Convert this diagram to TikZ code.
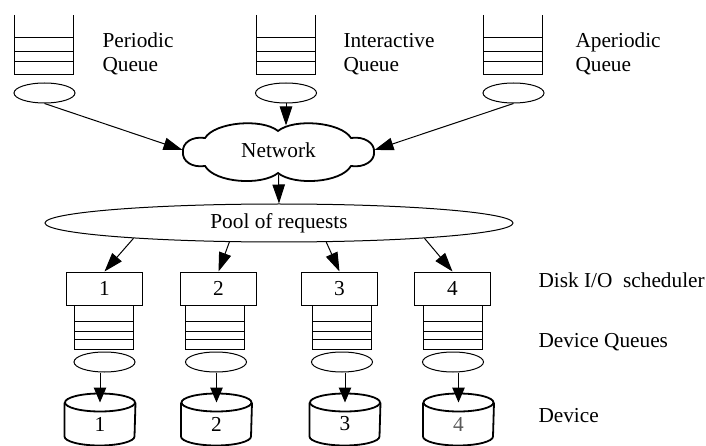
\documentclass[tikz,border=0pt]{standalone}
\usepackage{fontspec}
\setmainfont{Liberation Serif}
\usetikzlibrary{arrows.meta,shapes.geometric,calc}
\newcommand\qstack[7]{%
  \draw (#1-#2,#3) -- (#1-#2,#4) -- (#1+#2,#4) -- (#1+#2,#3);
  \draw (#1-#2,#5) -- (#1+#2,#5) (#1-#2,#6) -- (#1+#2,#6) (#1-#2,#7) -- (#1+#2,#7);}
\newcommand\cylbody[1]{%
  \draw[bold] (#1.north) ellipse [x radius=35pt, y radius=9pt];
  \draw[bold] (#1.north west) -- ($(#1.south west)+(0,-9)$)
    arc[start angle=180,end angle=360,x radius=35pt,y radius=9pt] -- (#1.north east);}
\begin{document}
\begin{tikzpicture}[x=1pt,y=-1pt,line width=1pt,font=\fontsize{21.3}{24}\selectfont,
  qell/.style={ellipse,draw,minimum width=61pt,minimum height=20pt,inner sep=0pt},
  sched/.style={rectangle,draw,minimum width=76pt,minimum height=33pt,inner sep=0pt},
  disk/.style={rectangle,minimum width=70pt,minimum height=42pt,inner sep=0pt},
  lbl/.style={anchor=base west,inner sep=0pt,align=left},
  bigarr/.style={-{Triangle[length=19pt,width=12.5pt]}},
  smallarr/.style={-{Triangle[length=15pt,width=12.5pt]}},
  bold/.style={line width=1.8pt}]
\useasboundingbox (0,0) rectangle (706,446);

% top queues
\qstack{43.5}{29.5}{15}{75}{38}{52}{62}
\qstack{285.5}{29.5}{15}{75}{38}{52}{62}
\qstack{513}{29.5}{15}{75}{38}{52}{62}
\node[qell] (pq) at (44.5,93) {};
\node[qell] (iq) at (286,93) {};
\node[qell] (aq) at (513.5,93) {};
\node[lbl] (lp) at (102,72) {Periodic\\Queue};
\node[lbl] (li) at (343,72) {Interactive\\Queue};
\node[lbl] (la) at (575,72) {Aperiodic\\Queue};

% network cloud
\node[ellipse,minimum width=191pt,minimum height=48pt,inner sep=0pt] (net) at (278.5,150) {Network};
\draw[bold] (183,152) .. controls (182,143) and (192,136) .. (205,138)
  .. controls (215,122) and (262,118) .. (278,131)
  .. controls (294,118) and (341,122) .. (351,138)
  .. controls (364,136) and (375,143) .. (374,152)
  .. controls (375,161) and (364,168) .. (351,166)
  .. controls (341,183) and (294,186) .. (278,173)
  .. controls (262,186) and (215,183) .. (205,166)
  .. controls (192,168) and (182,161) .. (183,152) -- cycle;

\draw[bigarr] (pq.south) -- (net.west);
\draw[bigarr] (aq.south) -- (net.east);
\draw[bigarr] (iq.south) -- (iq.south |- net.north);

% pool
\node[ellipse,draw,minimum width=468pt,minimum height=38pt,inner sep=0pt] (pool) at (279,223) {Pool of requests};
\draw[bigarr] (net.south) -- (pool.north);

% schedulers
\node[sched] (s1) at (104.5,288.5) {1};
\node[sched] (s2) at (218.5,288.5) {2};
\node[sched] (s3) at (339.5,288.5) {3};
\node[sched] (s4) at (452.5,288.5) {4};
\draw[bigarr] (pool.186.3) -- (s1.north);
\draw[bigarr] (pool.201.8) -- (s2.north);
\draw[bigarr] (pool.338.6) -- (s3.north);
\draw[bigarr] (pool.354) -- (s4.north);

% device queues
\qstack{103.5}{29.5}{305}{349}{321}{331}{339}
\qstack{215}{29.5}{305}{349}{321}{331}{339}
\qstack{341.5}{29.5}{305}{349}{321}{331}{339}
\qstack{452.5}{29.5}{305}{349}{321}{331}{339}
\node[qell] (e1) at (104.5,362) {};
\node[qell] (e2) at (216,362) {};
\node[qell] (e3) at (342,362) {};
\node[qell] (e4) at (453,362) {};

% devices
\node[disk] (d1) at (100,424) {1};
\node[disk] (d2) at (216.5,424) {2};
\node[disk] (d3) at (345,424) {3};
\node[disk,text=black!65] (d4) at (458.5,424) {4};
\cylbody{d1}\cylbody{d2}\cylbody{d3}\cylbody{d4}
\draw[smallarr] (d1.north |- e1.south) -- (d1.north);
\draw[smallarr] (d2.north |- e2.south) -- (d2.north);
\draw[smallarr] (d3.north |- e3.south) -- (d3.north);
\draw[smallarr] (d4.north |- e4.south) -- (d4.north);

% right labels
\node[lbl] (ls) at (538,287) {Disk I/O\ \ scheduler};
\node[lbl] (lq) at (538,347) {Device Queues};
\node[lbl] (ld) at (538,422) {Device};
\end{tikzpicture}
\end{document}
